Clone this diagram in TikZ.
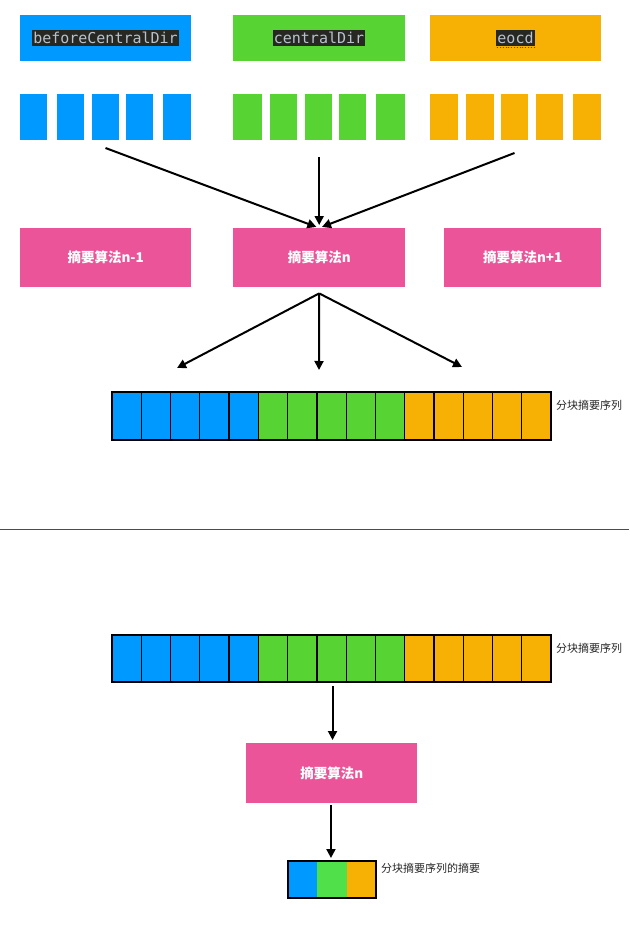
\documentclass[tikz,border=0pt]{standalone}
\usepackage{fontspec}
\setmainfont{Noto Sans CJK SC}
\newfontfamily\cjk{Noto Sans CJK SC}
\newfontfamily\codefont{DejaVu Sans Mono}
\usetikzlibrary{arrows.meta}
\definecolor{cblue}{HTML}{0099FF}
\definecolor{cgreen}{HTML}{57D334}
\definecolor{cgreenb}{HTML}{50E04A}
\definecolor{corange}{HTML}{F7B004}
\definecolor{cpink}{HTML}{EC5499}
\definecolor{codebg}{HTML}{272822}
\definecolor{codefg}{HTML}{B8C2CC}
\tikzset{
  blk/.style={anchor=north west,inner sep=0pt,outer sep=0pt,minimum height=#1},
  cell/.style={anchor=north west,inner sep=0pt,outer sep=0pt,draw=black,line width=1.3pt,minimum width=29.27pt,minimum height=48pt},
  pinkbox/.style={anchor=north west,fill=cpink,inner sep=0pt,text=white,font=\cjk\bfseries\fontsize{13.5}{15}\selectfont},
  codelbl/.style={fill=codebg,text=codefg,inner xsep=1pt,inner ysep=2pt,font=\codefont\fontsize{15}{17}\selectfont},
  arr/.style={draw=black,line width=2pt,-{Triangle[length=9pt,width=9pt]}},
  lbl/.style={anchor=west,inner sep=0pt,font=\cjk\fontsize{11}{13}\selectfont,text=black!85}
}
\begin{document}
\begin{tikzpicture}[x=1pt,y=-1pt]
\useasboundingbox (0,0) rectangle (629,928);
% top header boxes
\node[blk=46pt,fill=cblue,minimum width=171pt] (hb) at (20,15) {};
\node[blk=46pt,fill=cgreen,minimum width=172pt] (hg) at (233,15) {};
\node[blk=46pt,fill=corange,minimum width=171pt] (ho) at (430,15) {};
\node[codelbl] (lb) at (hb.center) {beforeCentralDir};
\node[codelbl] (lg) at (hg.center) {centralDir};
\node[codelbl] (lo) at (ho.center) {eocd};
\draw[red,dotted,line width=0.8pt] ([xshift=1pt,yshift=-1.5pt]lo.south west) -- ([xshift=-1pt,yshift=-1.5pt]lo.south east);
% small block row
\foreach \i/\x/\w in {1/20/27,2/57/27,3/92/27,4/126/27,5/163/28}
  \node[blk=46pt,fill=cblue,minimum width=\w pt] (b\i) at (\x,94) {};
\foreach \i/\x/\w in {1/233/29,2/270/27,3/305/27,4/339/27,5/376/29}
  \node[blk=46pt,fill=cgreen,minimum width=\w pt] (g\i) at (\x,94) {};
\foreach \i/\x/\w in {1/430/28,2/466/28,3/501/27,4/536/27,5/573/28}
  \node[blk=46pt,fill=corange,minimum width=\w pt] (o\i) at (\x,94) {};
% pink boxes
\node[pinkbox,minimum width=171pt,minimum height=59pt] (p1) at (20,228) {摘要算法n-1};
\node[pinkbox,minimum width=172pt,minimum height=59pt] (p2) at (233,228) {摘要算法n};
\node[pinkbox,minimum width=157pt,minimum height=59pt] (p3) at (444,228) {摘要算法n+1};
% arrows into p2
\draw[arr,shorten >=3pt] ([yshift=-8pt]b3.south) -- (p2.north);
\draw[arr,shorten >=3pt] ([yshift=-17pt]p2.north |- g3.south) -- (p2.north);
\draw[arr,shorten >=3pt] ([yshift=-13pt]o3.south) -- (p2.north);
% strip 1
\foreach \i in {1,...,15}{
  \pgfmathsetmacro{\cx}{112+(\i-1)*29.27}
  \ifnum\i<6 \def\cc{cblue}\else\ifnum\i<11 \def\cc{cgreen}\else\def\cc{corange}\fi\fi
  \node[cell,fill=\cc] (s\i) at (\cx,392) {};
}
\node[lbl] (sl1) at (556,405) {分块摘要序列};
% arrows out of p2
\coordinate (p2o) at ([yshift=-6pt]p2.south);
\coordinate (e1) at (177,368);
\coordinate (e2) at (319,370);
\coordinate (e3) at (462,367);
\draw[arr] (p2o) -- (e1);
\draw[arr] (p2o) -- (e2);
\draw[arr] (p2o) -- (e3);
% divider
\coordinate (dl) at (0,529);
\coordinate (dr) at (629,529);
\draw[line width=0.8pt,black!70] (dl) -- (dr);
% strip 2
\foreach \i in {1,...,15}{
  \pgfmathsetmacro{\cx}{112+(\i-1)*29.27}
  \ifnum\i<6 \def\cc{cblue}\else\ifnum\i<11 \def\cc{cgreen}\else\def\cc{corange}\fi\fi
  \node[cell,fill=\cc,minimum height=47pt] (t\i) at (\cx,635) {};
}
\node[lbl] (sl2) at (556,648) {分块摘要序列};
% bottom pink
\node[pinkbox,minimum width=171pt,minimum height=60pt] (q) at (246,743) {摘要算法n};
\draw[arr,shorten <=4pt,shorten >=3pt] ([xshift=1pt]t8.south) -- ([xshift=1pt]t8.south |- q.north);
% digest box
\node[blk=37pt,fill=cblue,minimum width=29.3pt] (d1) at (288,861) {};
\node[blk=37pt,fill=cgreenb,minimum width=29.3pt] (d2) at (317.3,861) {};
\node[blk=37pt,fill=corange,minimum width=29.4pt] (d3) at (346.6,861) {};
\draw[line width=2pt] (d1.north west) rectangle (d3.south east);
\draw[arr,shorten <=2pt,shorten >=3pt] ([xshift=-1pt]q.south -| d2.north) -- ([xshift=-1pt]d2.north);
\node[lbl] (dl2) at (381,868) {分块摘要序列的摘要};
\end{tikzpicture}
\end{document}
